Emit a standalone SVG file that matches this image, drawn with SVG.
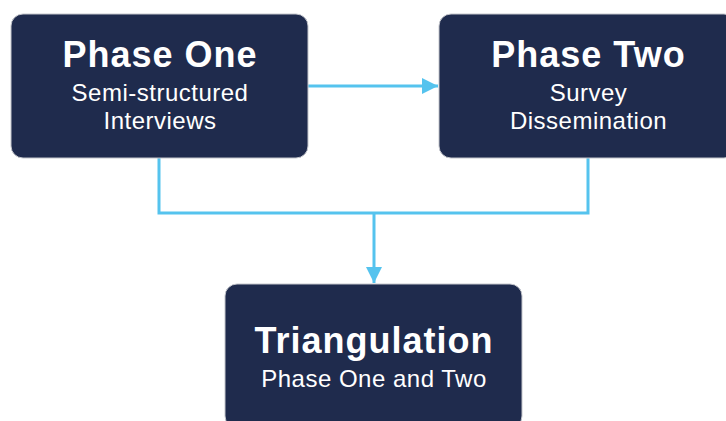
<svg xmlns="http://www.w3.org/2000/svg" width="726" height="421" viewBox="0 0 726 421">
  <style>
    .box { fill: #1f2b4d; stroke: #c4c6cc; stroke-width: 1; }
    .title { font-family: "Liberation Sans", Arial, sans-serif; font-weight: bold; font-size: 36px; letter-spacing: 1px; fill: #ffffff; text-anchor: middle; }
    .sub { font-family: "Liberation Sans", Arial, sans-serif; font-size: 24px; letter-spacing: 0.5px; fill: #ffffff; text-anchor: middle; }
    .link { fill: none; stroke: #55c3ee; stroke-width: 3; }
  </style>
  <defs>
    <marker id="arrow" viewBox="0 0 16 16" refX="16" refY="8" markerWidth="16" markerHeight="16" markerUnits="userSpaceOnUse" orient="auto">
      <path d="M0,0 L16,8 L0,16 Z" fill="#55c3ee"/>
    </marker>
  </defs>

  <g id="connectors">
    <path class="link" d="M308,86 H438" marker-end="url(#arrow)"/>
    <path class="link" d="M159,158 V213 H588 V158"/>
    <path class="link" d="M374,213 V283" marker-end="url(#arrow)"/>
  </g>

  <g id="phase-one">
    <rect class="box" x="11" y="14" width="297" height="144" rx="12"/>
    <text class="title" x="160" y="67">Phase One</text>
    <text class="sub" x="160" y="101">Semi-structured</text>
    <text class="sub" x="160" y="129">Interviews</text>
  </g>

  <g id="phase-two">
    <rect class="box" x="439" y="14" width="297" height="144" rx="12"/>
    <text class="title" x="588.5" y="67">Phase Two</text>
    <text class="sub" x="588.5" y="101">Survey</text>
    <text class="sub" x="588.5" y="129">Dissemination</text>
  </g>

  <g id="triangulation">
    <rect class="box" x="225" y="284" width="297" height="144" rx="12"/>
    <text class="title" x="374" y="353">Triangulation</text>
    <text class="sub" x="374" y="387">Phase One and Two</text>
  </g>
</svg>
